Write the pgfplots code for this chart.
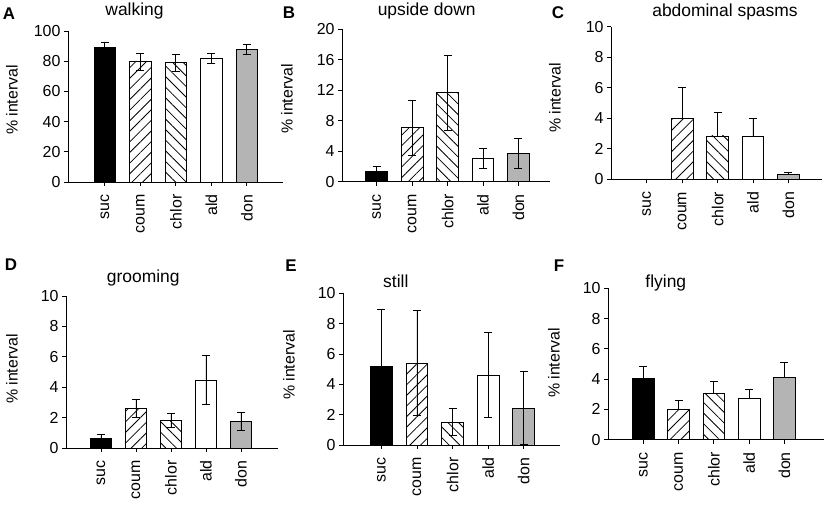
\documentclass[border=0pt]{standalone}
\usepackage{pgfplots}
\pgfplotsset{compat=1.18}
\usetikzlibrary{patterns.meta}
\usepackage{fontspec}
\setmainfont{Liberation Sans}
\newcommand{\tickfont}{\fontsize{16}{16}\selectfont}
\newcommand{\titlefont}{\fontsize{17.5}{17.5}\selectfont}
\newcommand{\letterfont}{\fontsize{17}{17}\selectfont\bfseries}
\definecolor{dongray}{HTML}{B4B4B4}
\pgfplotsset{
  panel/.style={scale only axis, anchor=south west,
    axis x line=bottom, axis y line=left,
    axis line style={-, line width=0.8bp, black},
    tick align=outside, major tick length=4bp,
    tick style={line width=0.8bp, black},
    xtick={0,...,4}, xticklabels={suc,coum,chlor,ald,don},
    xticklabel style={rotate=90, anchor=east, font=\tickfont},
    xticklabel shift=5bp,
    yticklabel style={font=\tickfont},
    /pgf/number format/assume math mode=true,
    ymin=0, clip=false},
  bb/.style={ybar, bar width=21.7bp, bar shift=0pt, draw=black, line width=0.8bp},
  sucb/.style={bb, fill=black},
  coumb/.style={bb, fill=white, postaction={pattern={Lines[angle=45,distance=7.5bp,line width=0.8bp]}}},
  chlorb/.style={bb, fill=white, postaction={pattern={Lines[angle=-45,distance=7.5bp,line width=0.8bp]}}},
  aldb/.style={bb, fill=white},
  donb/.style={bb, fill=dongray},
  eb/.style={error bars/.cd, y dir=#1, y explicit,
    error bar style={line width=0.8bp, black},
    error mark options={rotate=90, mark size=4bp, line width=0.8bp, black}},
}
\begin{document}
\begin{tikzpicture}
\useasboundingbox (0,0) rectangle (827bp,505bp);
% ---------------- A walking
\begin{axis}[panel, at={(68bp,323bp)}, width=215bp, height=151bp,
  xmin=-1.04, xmax=5.02, ymax=100, ytick={0,20,...,100}]
\addplot[sucb, eb=both] coordinates {(0,89.0) +- (0,3.7)};
\addplot[coumb, eb=both] coordinates {(1,79.6) +- (0,5.5)};
\addplot[chlorb, eb=both] coordinates {(2,79.1) +- (0,5.7)};
\addplot[aldb, eb=both] coordinates {(3,82.0) +- (0,3.3)};
\addplot[donb, eb=both] coordinates {(4,87.7) +- (0,3.5)};
\end{axis}
% ---------------- B upside down
\begin{axis}[panel, at={(342bp,323.3bp)}, width=208bp, height=152.4bp,
  xmin=-0.98, xmax=4.89, ymax=20, ytick={0,4,...,20}]
\addplot[sucb, eb=both] coordinates {(0,1.4) +- (0,0.65)};
\addplot[coumb, eb=both] coordinates {(1,7.06) +- (0,3.65)};
\addplot[chlorb, eb=both] coordinates {(2,11.67) +- (0,4.9)};
\addplot[aldb, eb=both] coordinates {(3,3.1) +- (0,1.3)};
\addplot[donb, eb=both] coordinates {(4,3.7) +- (0,2.0)};
\end{axis}
% ---------------- C abdominal spasms
\begin{axis}[panel, at={(611bp,325.7bp)}, width=211bp, height=152.6bp,
  xmin=-1.01, xmax=4.95, ymax=10, ytick={0,2,...,10}]
\addplot[coumb, eb=plus] coordinates {(1,3.96) +- (0,2.08)};
\addplot[chlorb, eb=plus] coordinates {(2,2.84) +- (0,1.54)};
\addplot[aldb, eb=plus] coordinates {(3,2.84) +- (0,1.16)};
\addplot[donb, eb=plus] coordinates {(4,0.29) +- (0,0.15)};
\end{axis}
% ---------------- D grooming
\begin{axis}[panel, at={(66bp,57bp)}, width=212bp, height=152bp,
  xmin=-1.0, xmax=5.06, ymax=10, ytick={0,2,...,10}]
\addplot[sucb, eb=both] coordinates {(0,0.61) +- (0,0.27)};
\addplot[coumb, eb=both] coordinates {(1,2.61) +- (0,0.6)};
\addplot[chlorb, eb=both] coordinates {(2,1.8) +- (0,0.45)};
\addplot[aldb, eb=both] coordinates {(3,4.47) +- (0,1.6)};
\addplot[donb, eb=both] coordinates {(4,1.75) +- (0,0.62)};
\end{axis}
% ---------------- E still
\begin{axis}[panel, at={(343bp,60bp)}, width=217bp, height=151.7bp,
  xmin=-1.08, xmax=5.02, ymax=10, ytick={0,2,...,10}]
\addplot[sucb, eb=both] coordinates {(0,5.15) +- (0,3.8)};
\addplot[coumb, eb=both] coordinates {(1,5.4) +- (0,3.45)};
\addplot[chlorb, eb=both] coordinates {(2,1.5) +- (0,0.9)};
\addplot[aldb, eb=both] coordinates {(3,4.6) +- (0,2.8)};
\addplot[donb, eb=both] coordinates {(4,2.43) +- (0,2.4)};
\end{axis}
% ---------------- F flying
\begin{axis}[panel, at={(608bp,65.3bp)}, width=216bp, height=151.4bp,
  xmin=-1.0, xmax=5.12, ymax=10, ytick={0,2,...,10}]
\addplot[sucb, eb=plus] coordinates {(0,4.07) +- (0,0.75)};
\addplot[coumb, eb=plus] coordinates {(1,2.0) +- (0,0.62)};
\addplot[chlorb, eb=plus] coordinates {(2,3.08) +- (0,0.77)};
\addplot[aldb, eb=plus] coordinates {(3,2.75) +- (0,0.58)};
\addplot[donb, eb=plus] coordinates {(4,4.12) +- (0,0.97)};
\end{axis}
% titles
\node[font=\titlefont] at (134.5bp,494bp) {walking};
\node[font=\titlefont] at (426.7bp,494bp) {upside down};
\node[font=\titlefont] at (725bp,493bp) {abdominal spasms};
\node[font=\titlefont] at (143.3bp,227bp) {grooming};
\node[font=\titlefont] at (395.8bp,224bp) {still};
\node[font=\titlefont] at (665.8bp,222bp) {flying};
% panel letters
\node[font=\letterfont] at (9bp,491bp) {A};
\node[font=\letterfont] at (289bp,492bp) {B};
\node[font=\letterfont] at (558bp,492bp) {C};
\node[font=\letterfont] at (11bp,240bp) {D};
\node[font=\letterfont] at (291bp,239bp) {E};
\node[font=\letterfont] at (559bp,239bp) {F};
% y labels
\node[font=\tickfont, rotate=90] at (12bp,405bp) {\% interval};
\node[font=\tickfont, rotate=90] at (287bp,406bp) {\% interval};
\node[font=\tickfont, rotate=90] at (555bp,407bp) {\% interval};
\node[font=\tickfont, rotate=90] at (12bp,136bp) {\% interval};
\node[font=\tickfont, rotate=90] at (289bp,140bp) {\% interval};
\node[font=\tickfont, rotate=90] at (554bp,142bp) {\% interval};
\end{tikzpicture}
\end{document}
